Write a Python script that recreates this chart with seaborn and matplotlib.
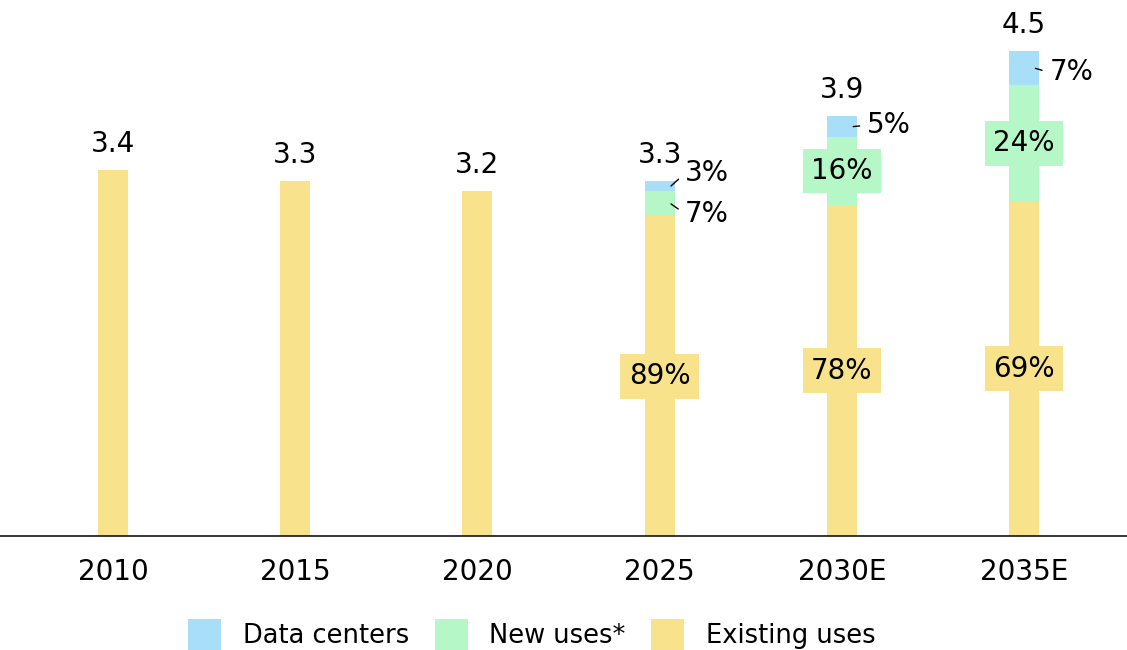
"""
Stacked bars: electricity demand split into existing uses, new uses and data centers
"""

import numpy as np
import pandas as pd
import seaborn as sns
import matplotlib.pyplot as plt
from matplotlib.patches import Patch

sns.set_theme(style='white')
plt.rcParams['font.family'] = ['DejaVu Sans']
plt.rcParams['text.color'] = 'black'

years = ['2010', '2015', '2020', '2025', '2030E', '2035E']
totals = [3.4, 3.3, 3.2, 3.3, 3.9, 4.5]
existing_pct = [100, 100, 100, 89, 78, 69]
new_pct = [0, 0, 0, 7, 16, 24]
dc_pct = [0, 0, 0, 3, 5, 7]

c_dc = '#a8def7'
c_new = '#b5f7c6'
c_exist = '#f8e38c'

df = pd.DataFrame({'year': years, 'total': totals, 'existing_pct': existing_pct,
                   'new_pct': new_pct, 'dc_pct': dc_pct})
share_sum = df[['existing_pct', 'new_pct', 'dc_pct']].sum(axis=1)
df['existing'] = df['total'] * df['existing_pct'] / share_sum
df['new'] = df['total'] * df['new_pct'] / share_sum
df['dc'] = df['total'] * df['dc_pct'] / share_sum
df['cum_new'] = df['existing'] + df['new']
df['cum_dc'] = df['cum_new'] + df['dc']

fig = plt.figure(figsize=(11.27, 6.5), dpi=100)
ax = fig.add_axes([0, 0.1754, 1, 0.8246])

w = 0.165
# draw from the top of the stack down so each layer covers the one above
for col, c in [('cum_dc', c_dc), ('cum_new', c_new), ('existing', c_exist)]:
    sns.barplot(data=df, x='year', y=col, color=c, width=w, saturation=1,
                linewidth=0, edgecolor='none', ax=ax)

ax.set_xlim(-0.62, 5.565)
ax.set_ylim(0, 4.977)
ax.set_xlabel('')
ax.set_ylabel('')
ax.set_yticks([])
sns.despine(ax=ax, left=True)
ax.spines['bottom'].set_color('black')
ax.spines['bottom'].set_linewidth(1.1)
ax.tick_params(axis='x', length=0, pad=16, labelsize=20, labelcolor='black')

# totals above bars
for i, t in enumerate(totals):
    ax.annotate(f'{t:.1f}', (i, df['cum_dc'][i]), xytext=(0, 13),
                textcoords='offset points', ha='center', va='baseline',
                fontsize=20, color='black')

# inside labels on segments (boxed with the segment colour)
def inside(i, y, txt, col):
    ax.text(i, y, txt, ha='center', va='center', fontsize=20, color='black',
            bbox=dict(boxstyle='square,pad=0.3', fc=col, ec='none'))

for i in range(3, 6):
    inside(i, df['existing'][i] / 2, f'{existing_pct[i]}%', c_exist)
for i in (4, 5):
    inside(i, df['existing'][i] + df['new'][i] / 2, f'{new_pct[i]}%', c_new)

# outside labels with short leader lines
def outside(i, y, txt, dy):
    ax.annotate(txt, (i + w / 2 - 0.02, y), xytext=(10, dy),
                textcoords='offset points', ha='left', va='center',
                fontsize=20, color='black',
                arrowprops=dict(arrowstyle='-', color='black', lw=1,
                                shrinkA=3, shrinkB=0, relpos=(0, 0.5)))

outside(3, df['existing'][3] + df['new'][3] + df['dc'][3] / 2, f'{dc_pct[3]}%', 9)
outside(3, df['existing'][3] + df['new'][3] / 2, f'{new_pct[3]}%', -7)
outside(4, df['existing'][4] + df['new'][4] + df['dc'][4] / 2, f'{dc_pct[4]}%', 1)
outside(5, df['existing'][5] + df['new'][5] + df['dc'][5] / 2, f'{dc_pct[5]}%', -3)

handles = [Patch(fc=c_dc, ec='none', label='Data centers'),
           Patch(fc=c_new, ec='none', label='New uses*'),
           Patch(fc=c_exist, ec='none', label='Existing uses')]
fig.legend(handles=handles, loc='lower left', bbox_to_anchor=(188 / 1127, 0.0),
           ncol=3, frameon=False, fontsize=18.5, handlelength=1.28, handleheight=1.5,
           handletextpad=0.85, columnspacing=1.0, borderpad=0, borderaxespad=0,
           labelcolor='black')

plt.savefig('out.png', dpi=100)
